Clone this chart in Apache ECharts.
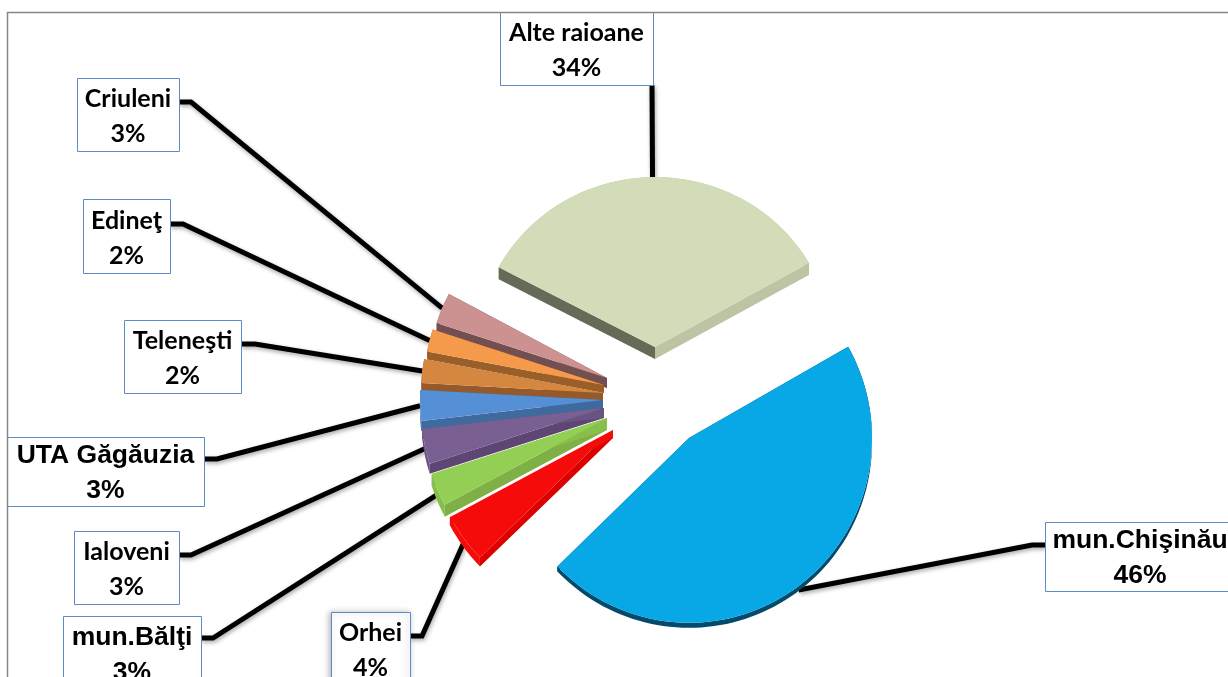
<!DOCTYPE html>
<html>
<head>
<meta charset="utf-8">
<style>html,body{margin:0;padding:0;background:#fff}#c{width:1228px;height:677px}</style>
<script src="https://cdn.jsdelivr.net/npm/echarts@6/dist/echarts.min.js"></script>
</head>
<body>
<div id="c"></div>
<script>
// Data (clockwise from the first slice); shown labels are rounded to whole percent
const categories = ['mun.Chişinău','Orhei','mun.Bălţi','Ialoveni','UTA Găgăuzia','Teleneşti','Edineţ','Criuleni','Alte raioane'];
const values = [46, 4.4, 2.9, 3.1, 2.7, 2.1, 2.0, 2.8, 34];
const firstAngle = -29.6;

// Styles: slice top, start-cut wall, end-cut wall, rim wall
const topColors  = ['#08A7E6','#F60B0B','#94CF55','#7A5F92','#558FD5','#D6873F','#F59A4B','#CC9292','#D2DCB8'];
const cutColors  = ['#024B6D','#DC0000','#7FB045','#5D4673','#3F6AA0','#96592A','#9A5E28','#744F51','#646B56'];
const endColors  = ['#024B6D','#F60B0B','#88BF4C','#6A5282','#3F6AA0','#96592A','#9A5E28','#744F51','#BCC4A3'];
const rimColors  = ['#024B6D','#F60B0B','#88BF4C','#6A5282','#3F6AA0','#96592A','#9A5E28','#744F51','#BCC4A3'];

// Layout: exploded apex of each slice, radius, vertical squash, thickness
const apexes  = [[689,438],[613,429],[607,418],[604,408],[603,400],[603,393],[604,385],[607,378],[655,347]];
const radii   = [183,185,184,183,183,182,180,179,177];
const squash  = [1.01,1,1,1,1,1,1,1,0.96];
const depths  = [5,9,12,10,10,8,8,10,12];

// Label boxes [x,y,w,h], the stub point where the leader leaves the box
const boxes = [[1045,522,200,69],[331,612,79,73],[63,616,138,74],[74,531,105,73],[7,437,197,69],[124,320,117,73],[83,199,87,74],[77,78,102,73],[500,12,153,73]];
const stubs = [[[1045,545],[1032,545]],[[410,636],[422,636]],[[201,638],[213,638]],[[179,555],[191,555]],[[204,459],[217,459]],[[241,344],[255,344]],[[170,224],[183,224]],[[179,102],[191,102]],[[652,85],[652,85]]];
const sansLabels = [true,false,true,false,true,false,false,false,false];

const total = values.reduce((a,b)=>a+b,0);
const starts = [];
values.reduce((a,v,i)=>{ starts[i]=a; return a+v/total*360; }, firstAngle);
const rad = d => d*Math.PI/180;

function renderItem(params, api){
  const i = params.dataIndex;
  const v = api.value(0);
  const a0 = starts[i], a1 = a0 + v/total*360;
  const [cx,cy] = apexes[i], r = radii[i], sy = squash[i], d = depths[i];
  const pt = (a,off=0) => [cx + r*Math.cos(rad(a)), cy + sy*r*Math.sin(rad(a)) + off];
  const arcPts = [];
  const n = Math.max(6, Math.ceil((a1-a0)/2));
  for(let k=0;k<=n;k++) arcPts.push(a0+(a1-a0)*k/n);
  const z = (values.length - i)*10;
  const poly = (points, fill, dz) => ({type:'polygon', z2:z+dz, shape:{points}, style:{fill}});

  const top = [[cx,cy]].concat(arcPts.map(a=>pt(a)));
  const rim = arcPts.map(a=>pt(a)).concat(arcPts.slice().reverse().map(a=>pt(a,d)));
  const sA = pt(a0), sB = pt(a0,d), eA = pt(a1), eB = pt(a1,d);
  const children = [
    poly(rim, rimColors[i], 0),
    poly([[cx,cy],sA,sB,[cx,cy+d]], cutColors[i], 1),
    poly([[cx,cy],eA,eB,[cx,cy+d]], endColors[i], 2),
    poly(top, topColors[i], 3)
  ];
  if(i===1){ // thin white highlight along the red slice's upper edge
    children.push({type:'line', z2:z+4, shape:{x1:cx,y1:cy,x2:eA[0],y2:eA[1]}, style:{stroke:'#fff',lineWidth:1.5}});
  }

  // leader: from the box stub to the slice's rim at its middle angle
  const mid = (a0+a1)/2;
  const end = pt(mid, d*Math.max(0,Math.sin(rad(mid))));
  children.push({type:'polyline', z2:-10, shape:{points:stubs[i].concat([end])},
    style:{fill:null,stroke:'#000',lineWidth:5,lineJoin:'miter',shadowBlur:4,shadowColor:'rgba(0,0,0,0.35)',shadowOffsetX:1,shadowOffsetY:2}});

  // label box
  const [bx,by,bw,bh] = boxes[i];
  const boxStyle = {fill:'#fff',stroke:'#5B8CC8',lineWidth:1};
  if(i===1){ Object.assign(boxStyle,{shadowBlur:6,shadowColor:'rgba(0,0,0,0.3)',shadowOffsetX:-2,shadowOffsetY:0}); }
  children.push({type:'rect', z2:200, shape:{x:bx+0.5,y:by+0.5,width:bw,height:bh}, style:boxStyle});
  const textCx = i===0 ? 1140 : bx + bw/2;
  children.push({type:'text', z2:201, x:textCx, y:by+bh/2+2, style:{
    text: categories[i] + '\n' + Math.round(v) + '%',
    align:'center', verticalAlign:'middle', lineHeight:35, fill:'#000',
    fontWeight:'bold',
    fontFamily: sansLabels[i] ? '"Liberation Sans"' : 'Lato',
    fontSize: sansLabels[i] ? 26.5 : 25
  }});
  return {type:'group', children};
}

const chart = echarts.init(document.getElementById('c'), null, {renderer:'canvas'});
chart.setOption({
  backgroundColor:'#fff',
  animation:false,
  graphic:[
    {type:'polyline', z:10, silent:true, shape:{points:[[7.5,677],[7.5,12.5],[1228,12.5]]}, style:{fill:null,stroke:'#868686',lineWidth:1.5}}
  ],
  series:[{
    type:'custom',
    coordinateSystem:'none',
    silent:true,
    renderItem,
    data: values.map((v,i)=>({name:categories[i], value:[v]})),
    clip:false
  }]
});
</script>
</body>
</html>
